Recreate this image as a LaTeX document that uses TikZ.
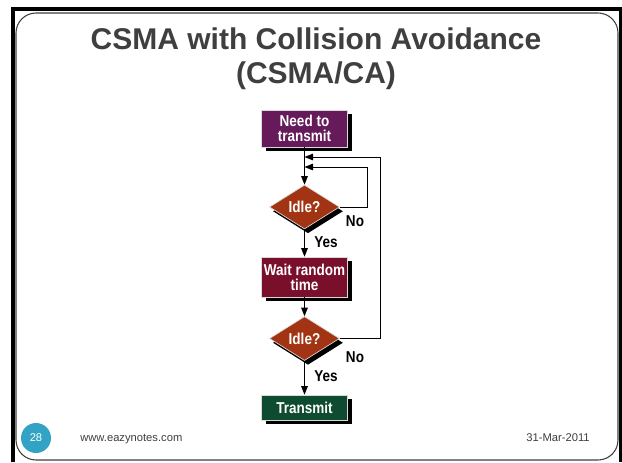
\documentclass[tikz,border=0pt]{standalone}
\usepackage{fontspec}
\setmainfont{Liberation Sans}
\newfontfamily\chartfont[FakeStretch=0.86]{Liberation Sans}
\usepackage{tikz}
\usetikzlibrary{arrows.meta, shapes.geometric, shadows, positioning}

\definecolor{titlegray}{HTML}{3F3F3F}
\definecolor{needpurple}{HTML}{661A5A}
\definecolor{waitred}{HTML}{7A0F2C}
\definecolor{sendgreen}{HTML}{0E4B30}
\definecolor{idlerust}{HTML}{A23413}
\definecolor{pageteal}{HTML}{32A3C5}

\begin{document}
\begin{tikzpicture}[x=0.75pt,y=-0.75pt,>={Triangle[length=6.5pt,width=5pt]},
	flowbox/.style={rectangle, draw=gray!30, line width=0.5pt, text=white,
		font=\chartfont\fontsize{11.8}{11.4}\selectfont\bfseries, align=center,
		minimum width=64.5pt, inner sep=0pt,
		drop shadow={opacity=1, fill=black, shadow xshift=3.2pt, shadow yshift=-3.2pt}},
	idle/.style={diamond, draw=gray!30, line width=0.5pt, fill=idlerust, text=white,
		font=\chartfont\fontsize{11.8}{11.4}\selectfont\bfseries,
		minimum width=52.5pt, minimum height=33pt, inner sep=0pt,
		drop shadow={opacity=1, fill=black, shadow xshift=2.6pt, shadow yshift=-3.2pt}},
	branch/.style={font=\chartfont\fontsize{11.8}{11.4}\selectfont\bfseries, inner sep=0pt},
	flow/.style={->, line width=0.75pt},
	footer/.style={font=\fontsize{8.4}{10}\selectfont, text=titlegray, inner sep=0pt}]

	% page
	\useasboundingbox (0,0) rectangle (622,462);
	\fill[white] (0,0) rectangle (622,462);
	\draw[line width=2.3pt] (13,462) -- (13,9) -- (620.5,9) -- (620.5,462);
	\draw[gray!50!black, line width=0.8pt, rounded corners=15pt] (16,13) rectangle (618,460);

	% heading
	\node[anchor=base, text=titlegray, font=\fontsize{22.5}{25.5}\selectfont\bfseries, inner sep=0pt] (head1) at (316,49) {CSMA with Collision Avoidance};
	\node[anchor=base, text=titlegray, font=\fontsize{22.5}{25.5}\selectfont\bfseries, inner sep=0pt] (head2) at (316,83) {(CSMA/CA)};

	% flow chart
	\node[flowbox, fill=needpurple, minimum height=27.75pt] (need) at (304.5,128.5) {Need to\\transmit};
	\node[idle] (idle1) at (304.5,207) {Idle?};
	\node[flowbox, fill=waitred, minimum height=30pt] (wait) at (304.5,277) {Wait random\\time};
	\node[idle] (idle2) at (304.5,338.5) {Idle?};
	\node[flowbox, fill=sendgreen, minimum height=18.75pt] (send) at (304.5,407.5) {Transmit};

	\coordinate (joinB) at (304.5,157);
	\coordinate (joinA) at (304.5,167);
	\coordinate (backA) at (367,167);
	\coordinate (backB) at (380,157);

	\draw[line width=0.75pt] (need) -- (joinB);
	\draw[flow] (joinB) -- (idle1);
	\draw[flow] (idle1) -- (wait);
	\draw[flow] (wait) -- (idle2);
	\draw[flow] (idle2) -- (send);
	\draw[flow] (idle1.east) -| (backA) -- (joinA);
	\draw[flow] (idle2.east) -| (backB) -- (joinB);

	\node[branch] (no1) at (355,221) {No};
	\node[branch] (yes1) at (326,242) {Yes};
	\node[branch] (no2) at (355,357) {No};
	\node[branch] (yes2) at (326,376) {Yes};

	% footer
	\node[circle, fill=pageteal, minimum size=22.5pt, inner sep=0pt, text=white, font=\fontsize{8.4}{10}\selectfont] (page) at (36,438) {28};
	\node[footer, anchor=base west] (site) at (80,441) {www.eazynotes.com};
	\node[footer, anchor=base east] (date) at (590,441) {31-Mar-2011};
\end{tikzpicture}
\end{document}
